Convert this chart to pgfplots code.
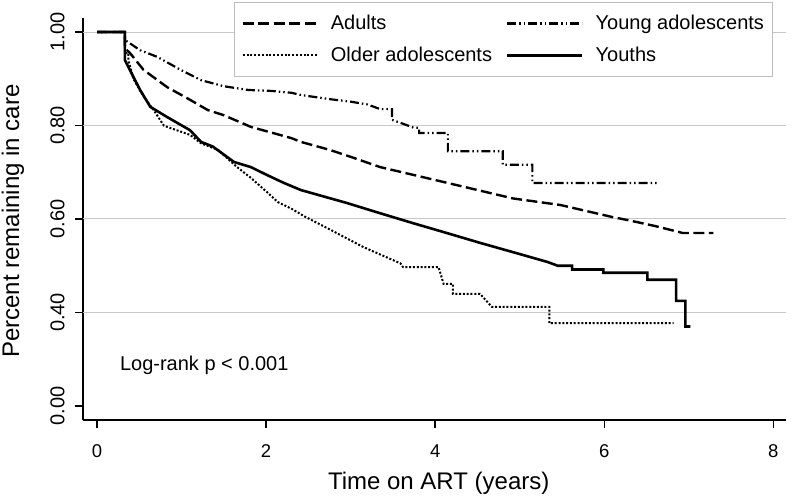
\documentclass[border=0pt]{standalone}
\usepackage{fontspec}
\setmainfont{Liberation Sans}
\usepackage{pgfplots}
\pgfplotsset{compat=1.18}
\definecolor{gridgray}{RGB}{200,200,200}
\definecolor{legframe}{RGB}{190,190,190}
\begin{document}
\begin{tikzpicture}
\begin{axis}[
  at={(83bp,84bp)}, anchor=south west,
  scale only axis, width=703bp, height=402bp,
  xmin=-0.166, xmax=8.15, ymin=0.17, ymax=1.03,
  axis lines*=left,
  axis line style={line width=1.6bp, black},
  tick align=outside,
  major tick length=8bp,
  tick style={black, line width=1.4bp},
  xtick={0,2,4,6,8}, xticklabels={0,2,4,6,8},
  ytick={0.2}, yticklabels={0.00},
  extra y ticks={0.4,0.6,0.8,1.0},
  extra y tick labels={0.40,0.60,0.80,1.00},
  extra y tick style={grid=major},
  grid style={gridgray, line width=1bp},
  xticklabel shift=13bp,
  yticklabel shift=7bp,
  xticklabel style={font=\fontsize{18.5bp}{20bp}\selectfont},
  yticklabel style={font=\fontsize{20bp}{22bp}\selectfont, rotate=90, anchor=south},
  xlabel={Time on ART (years)},
  ylabel={Percent remaining in care},
  xlabel style={font=\fontsize{24bp}{28bp}\selectfont, at={(axis description cs:0.506,-0.174)}, anchor=base},
  ylabel style={font=\fontsize{24bp}{28bp}\selectfont, at={(axis description cs:-0.0996,0.495)}, anchor=center, rotate=0},
  legend columns=2,
  legend cell align=left,
  legend image code/.code={\draw[#1] (0bp,0bp) -- (75bp,0bp); \path (0bp,0bp) (85bp,0bp);},
  legend style={at={(axis description cs:0.2148,1.04)}, anchor=north west,
    draw=legframe, line width=1bp, fill=white,
    font=\fontsize{20bp}{24bp}\selectfont,
    inner xsep=7bp, inner ysep=11bp, row sep=12bp},
]
\addplot[black, line width=2.4bp, dash pattern=on 11bp off 4.5bp] coordinates {
(0,1) (0.33,1) (0.33,0.965) (0.39,0.955) (0.55,0.919) (0.83,0.882) (1.1,0.855) (1.31,0.833) (1.5,0.822) (1.82,0.797) (2.3,0.773) (2.41,0.765) (2.75,0.748) (3.0,0.733) (3.35,0.711) (4.15,0.677) (4.92,0.644) (5.48,0.63) (6.1,0.604) (6.27,0.598) (6.6,0.585) (6.93,0.57) (7.29,0.57)
};
\addlegendentry{Adults}
\addplot[black, line width=2.2bp, dash pattern=on 9bp off 3bp on 1.5bp off 3bp on 1.5bp off 3bp] coordinates {
(0,1) (0.33,1) (0.33,0.983) (0.51,0.961) (0.71,0.947) (0.99,0.919) (1.23,0.897) (1.5,0.884) (1.79,0.876) (2.06,0.874) (2.3,0.87) (2.42,0.865) (2.77,0.856) (3.0,0.851) (3.2,0.845) (3.35,0.835) (3.49,0.835) (3.49,0.812) (3.6,0.805) (3.75,0.795) (3.81,0.795) (3.81,0.784) (4.15,0.784) (4.15,0.745) (4.80,0.745) (4.80,0.716) (5.15,0.716) (5.15,0.677) (6.64,0.677)
};
\addlegendentry{Young adolescents}
\addplot[black, line width=2bp, dash pattern=on 2bp off 1.8bp] coordinates {
(0,1) (0.33,1) (0.33,0.955) (0.37,0.955) (0.37,0.94) (0.43,0.90) (0.55,0.862) (0.67,0.833) (0.79,0.80) (0.83,0.797) (1.1,0.78) (1.23,0.762) (1.43,0.748) (1.65,0.712) (1.82,0.688) (2.02,0.656) (2.14,0.636) (2.3,0.622) (2.45,0.606) (2.76,0.577) (3.15,0.54) (3.59,0.505) (3.62,0.497) (4.04,0.497) (4.1,0.461) (4.21,0.461) (4.21,0.44) (4.53,0.44) (4.67,0.412) (5.35,0.412) (5.35,0.377) (6.82,0.377)
};
\addlegendentry{Older adolescents\hspace*{12bp}}
\addplot[black, line width=2.6bp] coordinates {
(0,1) (0.33,1) (0.33,0.94) (0.43,0.904) (0.51,0.876) (0.63,0.84) (0.83,0.818) (1.1,0.79) (1.23,0.765) (1.37,0.755) (1.62,0.722) (1.82,0.711) (2.0,0.695) (2.2,0.678) (2.41,0.662) (2.96,0.634) (3.3,0.615) (3.74,0.591) (4.1,0.572) (4.53,0.549) (5.0,0.525) (5.33,0.508) (5.45,0.50) (5.62,0.50) (5.62,0.492) (5.99,0.492) (5.99,0.485) (6.51,0.485) (6.51,0.47) (6.85,0.47) (6.85,0.425) (6.96,0.425) (6.96,0.37) (7.02,0.37)
};
\addlegendentry{Youths}
\node[anchor=west, inner sep=0pt, font=\fontsize{20bp}{22bp}\selectfont] at (axis cs:0.27,0.287) {Log-rank p < 0.001};
\end{axis}
\pgfresetboundingbox
\path[use as bounding box] (0,0) rectangle (792bp,504bp);
\end{tikzpicture}
\end{document}
